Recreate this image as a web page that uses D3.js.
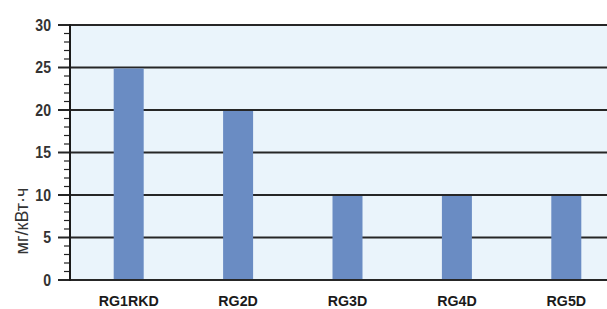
<!DOCTYPE html>
<html>
<head>
<meta charset="utf-8">
<script src="https://cdn.jsdelivr.net/npm/d3@7"></script>
<style>
  body { margin: 0; background: #ffffff; }
  svg { display: block; }
</style>
</head>
<body>
<div id="chart"></div>
<script>
// Chart data
const categories = ["RG1RKD", "RG2D", "RG3D", "RG4D", "RG5D"];
const values = [25, 20, 10, 10, 10];
const yTicks = [0, 5, 10, 15, 20, 25, 30];
const yLabel = "мг/кВт·ч";

const width = 607;
const height = 309;

const plotLeft = 70;
const plotTop = 25;
const plotBottom = 280;

const svg = d3.select("#chart").append("svg")
  .attr("width", width)
  .attr("height", height);

const x = d3.scaleBand()
  .domain(categories)
  .range([74, 621]);

const y = d3.scaleLinear()
  .domain([0, 30])
  .range([plotBottom, plotTop]);

// Plot background
svg.append("rect")
  .attr("x", plotLeft)
  .attr("y", plotTop)
  .attr("width", width - plotLeft)
  .attr("height", plotBottom - plotTop)
  .attr("fill", "#eaf4fb");

// Minor ticks on the left axis
svg.append("g")
  .selectAll("line")
  .data(d3.range(0, 31).filter(d => d % 5 !== 0))
  .join("line")
  .attr("x1", 64)
  .attr("x2", plotLeft)
  .attr("y1", d => y(d))
  .attr("y2", d => y(d))
  .attr("stroke", "#222")
  .attr("stroke-width", 1.2);

// Gridlines with major ticks
svg.append("g")
  .selectAll("line")
  .data(yTicks)
  .join("line")
  .attr("x1", 58)
  .attr("x2", width)
  .attr("y1", d => y(d))
  .attr("y2", d => y(d))
  .attr("stroke", "#262626")
  .attr("stroke-width", 2);

// Bars
const barWidth = 30;
svg.append("g")
  .selectAll("rect")
  .data(categories)
  .join("rect")
  .attr("x", d => x(d) + x.bandwidth() / 2 - barWidth / 2)
  .attr("y", (d, i) => y(values[i]) + 1)
  .attr("width", barWidth)
  .attr("height", (d, i) => y(0) - y(values[i]) - 2)
  .attr("fill", "#6a8cc3");

// Left axis line
svg.append("line")
  .attr("x1", plotLeft)
  .attr("x2", plotLeft)
  .attr("y1", plotTop - 1)
  .attr("y2", plotBottom + 1)
  .attr("stroke", "#1a1a1a")
  .attr("stroke-width", 2);

// Y tick labels (condensed look via horizontal scale)
svg.append("g")
  .selectAll("text")
  .data(yTicks)
  .join("text")
  .attr("transform", d => `translate(51,${y(d)}) scale(0.88,1)`)
  .attr("dy", "0.35em")
  .attr("text-anchor", "end")
  .attr("font-family", "'Liberation Sans', Arial, sans-serif")
  .attr("font-weight", "bold")
  .attr("font-size", "16px")
  .attr("fill", "#333")
  .text(d => d);

// Category labels
svg.append("g")
  .selectAll("text")
  .data(categories)
  .join("text")
  .attr("transform", d => `translate(${x(d) + x.bandwidth() / 2},306) scale(0.95,1)`)
  .attr("text-anchor", "middle")
  .attr("font-family", "'Liberation Sans', Arial, sans-serif")
  .attr("font-weight", "bold")
  .attr("font-size", "15px")
  .attr("fill", "#1a1a1a")
  .text(d => d);

// Y axis title
svg.append("text")
  .attr("transform", "translate(28,221) rotate(-90)")
  .attr("text-anchor", "middle")
  .attr("font-family", "'Liberation Sans', Arial, sans-serif")
  .attr("font-size", "18px")
  .attr("fill", "#333")
  .text(yLabel);
</script>
</body>
</html>
